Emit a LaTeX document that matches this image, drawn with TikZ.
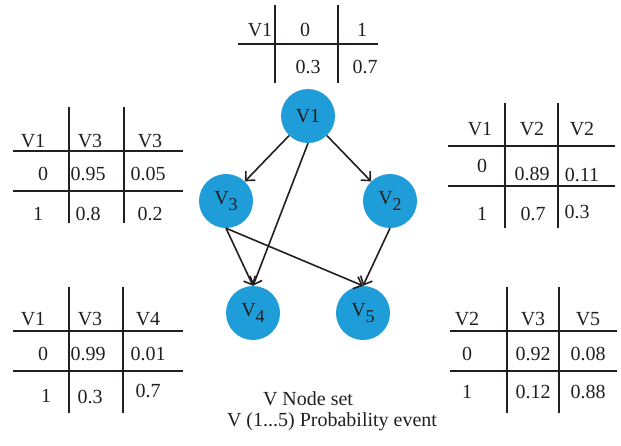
\documentclass[tikz,border=0pt]{standalone}
\usepackage{fontspec}
\setmainfont{Liberation Serif}
\usetikzlibrary{arrows.meta}
\definecolor{nodeblue}{RGB}{31,157,216}
\definecolor{ink}{RGB}{35,31,32}
% subscript that stays nearly full size, as in the node labels
\newcommand{\vsub}[1]{V\raisebox{-6pt}{\fontsize{18}{18}\selectfont #1}}
\begin{document}
\begin{tikzpicture}[x=1pt,y=-1pt,
  every node/.style={font=\fontsize{20}{23}\selectfont, text=ink},
  cell/.style={anchor=base, inner sep=0pt},
  rule/.style={line width=1.8pt, draw=ink},
  vnode/.style={circle, fill=nodeblue, minimum size=54pt, inner sep=0pt},
  edge/.style={line width=1.6pt, draw=ink, -{Straight Barb[length=7pt,width=13pt]}}]
\useasboundingbox (0,0) rectangle (621,445);

% ---- prior table of V1 ----
\draw[rule] (275,5) -- (275,83);
\draw[rule] (338,5) -- (338,83);
\draw[rule] (238,44) -- (378,44);
\node[cell] (pa) at (260,36) {V1};
\node[cell] (pb) at (305,36) {0};
\node[cell] (pc) at (362,36) {1};
\node[cell] (pd) at (308,73) {0.3};
\node[cell] (pe) at (365,73) {0.7};

% ---- table V1 -> V3 ----
\draw[rule] (69,107) -- (69,223);
\draw[rule] (124,107) -- (124,223);
\draw[rule] (13,151) -- (183,151);
\draw[rule] (13,191) -- (183,191);
\node[cell] (aa) at (33,147) {V1};
\node[cell] (ab) at (90,147) {V3};
\node[cell] (ac) at (150,147) {V3};
\node[cell] (ad) at (43,180) {0};
\node[cell] (ae) at (88,180) {0.95};
\node[cell] (af) at (148,180) {0.05};
\node[cell] (ag) at (38,220) {1};
\node[cell] (ah) at (88,220) {0.8};
\node[cell] (ai) at (150,220) {0.2};

% ---- table V1 -> V2 ----
\draw[rule] (505,103) -- (505,228);
\draw[rule] (558,103) -- (558,228);
\draw[rule] (448,146) -- (615,146);
\draw[rule] (448,186) -- (615,186);
\node[cell] (ba) at (480,135) {V1};
\node[cell] (bb) at (532,135) {V2};
\node[cell] (bc) at (582,135) {V2};
\node[cell] (bd) at (482,172) {0};
\node[cell] (be) at (532,180) {0.89};
\node[cell] (bf) at (582,181) {0.11};
\node[cell] (bg) at (482,220) {1};
\node[cell] (bh) at (533,220) {0.7};
\node[cell] (bi) at (577,218) {0.3};

% ---- table V1, V3 -> V4 ----
\draw[rule] (69,287) -- (69,413);
\draw[rule] (123,287) -- (123,413);
\draw[rule] (13,331) -- (183,331);
\draw[rule] (13,371) -- (183,371);
\node[cell] (ca) at (33,325) {V1};
\node[cell] (cb) at (90,325) {V3};
\node[cell] (cc) at (148,325) {V4};
\node[cell] (cd) at (43,360) {0};
\node[cell] (ce) at (88,360) {0.99};
\node[cell] (cf) at (148,360) {0.01};
\node[cell] (cg) at (46,402) {1};
\node[cell] (ch) at (90,403) {0.3};
\node[cell] (ci) at (148,397) {0.7};

% ---- table V2, V3 -> V5 ----
\draw[rule] (507,287) -- (507,413);
\draw[rule] (559,287) -- (559,413);
\draw[rule] (450,331) -- (617,331);
\draw[rule] (450,371) -- (617,371);
\node[cell] (da) at (467,325) {V2};
\node[cell] (db) at (533,325) {V3};
\node[cell] (dc) at (588,325) {V5};
\node[cell] (dd) at (467,360) {0};
\node[cell] (de) at (533,360) {0.92};
\node[cell] (df) at (588,360) {0.08};
\node[cell] (dg) at (467,398) {1};
\node[cell] (dh) at (533,398) {0.12};
\node[cell] (di) at (588,398) {0.88};

% ---- network ----
\node[vnode] (v1) at (308,116) {V1};
\node[vnode] (v3) at (226,201) {\vsub{3}};
\node[vnode] (v2) at (390,201) {\vsub{2}};
\node[vnode] (v4) at (253,313) {\vsub{4}};
\node[vnode] (v5) at (363,313) {\vsub{5}};

\draw[edge] (v1) -- (v3);
\draw[edge] (v1) -- (v2);
\draw[edge] (v1.south) -- (v4.north);
\draw[edge] (v3.south) -- (v4.north);
\draw[edge] (v3.south) -- (v5.north);
\draw[edge] (v2.south) -- (v5.north);

% ---- legend ----
\node[cell] (l1) at (308,405) {V Node set};
\node[cell] (l2) at (332,426) {V (1...5) Probability event};
\end{tikzpicture}
\end{document}
